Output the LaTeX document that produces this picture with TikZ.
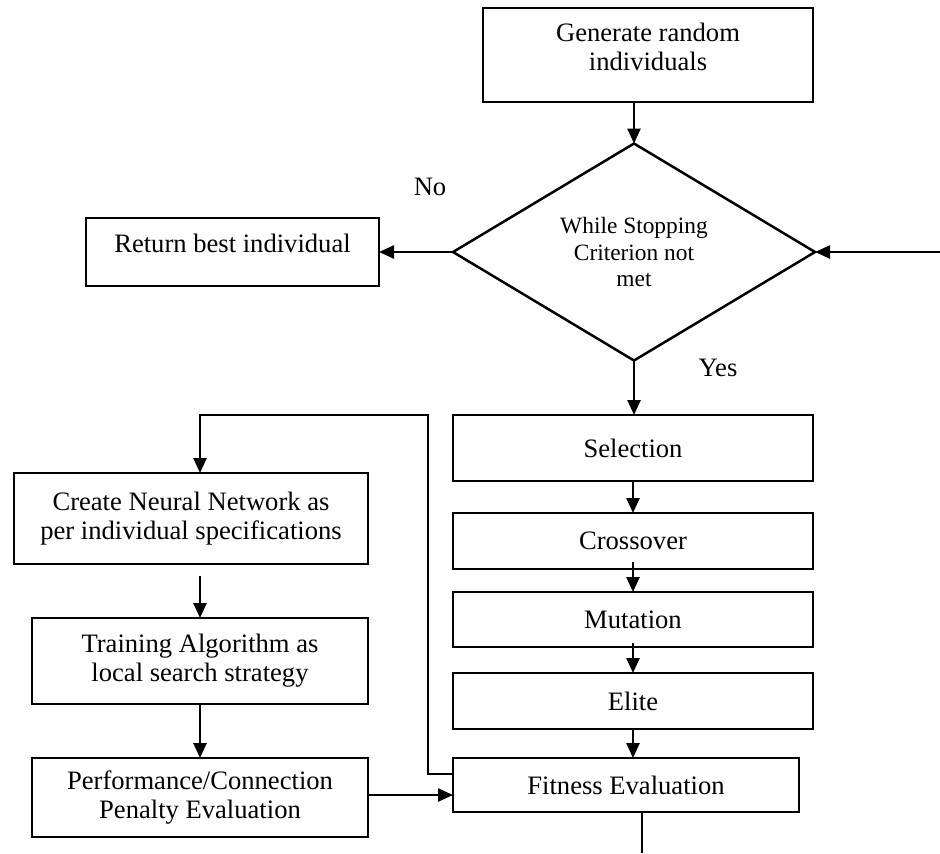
\documentclass[tikz,border=0pt]{standalone}
\usepackage{fontspec}
\setmainfont{Liberation Serif}
\usetikzlibrary{arrows.meta,shapes.geometric}
\newcommand{\boxfont}{\fontsize{13.3}{14.5}\selectfont}
\tikzset{
  stepbox/.style={draw,line width=1.25pt,inner sep=0pt,outer sep=0pt,align=center,
                  font=\boxfont},
  decision/.style={diamond,draw,line width=1.25pt,inner sep=0pt,outer sep=0pt,
                  align=center,font=\fontsize{11.7}{13.25}\selectfont,
                  minimum width=181pt,minimum height=90pt},
  flow/.style={-{Triangle[length=7.5pt,width=6.5pt]},line width=1.25pt},
  plain/.style={line width=1.25pt},
  tag/.style={font=\boxfont,inner sep=0pt},
}

\begin{document}
\begin{tikzpicture}[x=0.5pt,y=-0.5pt]
  \useasboundingbox (0,0) rectangle (940,853);
  \node[stepbox,minimum width=165pt,minimum height=47pt,text depth=8pt] (gen) at (648,55)
    {Generate random\\ individuals};
  \node[decision] (crit) at (634,252) {While Stopping\\ Criterion not\\ met};
  \node[stepbox,minimum width=146.5pt,minimum height=34pt,text height=9pt,
        text depth=9pt] (ret) at (232.5,252) {Return best individual};
  \node[tag] (no) at (430,187) {No};
  \node[tag] (yes) at (718,368) {Yes};
  \node[stepbox,minimum width=180pt,minimum height=33pt] (sel) at (633,448) {Selection};
  \node[stepbox,minimum width=180pt,minimum height=28pt] (cross) at (633,541) {Crossover};
  \node[stepbox,minimum width=180pt,minimum height=27.5pt] (mut) at (633,619.5) {Mutation};
  \node[stepbox,minimum width=180pt,minimum height=28pt] (elite) at (633,701) {Elite};
  \node[stepbox,minimum width=173pt,minimum height=27pt] (fit) at (626,785)
    {Fitness Evaluation};
  \node[stepbox,minimum width=177pt,minimum height=45.5pt] (create) at (191,518.5)
    {Create Neural Network as\\ per individual specifications};
  \node[stepbox,minimum width=168pt,minimum height=43pt] (train) at (200,661)
    {Training Algorithm as\\ local search strategy};
  \node[stepbox,minimum width=168pt,minimum height=39.5pt] (perf) at (200,797.5)
    {Performance/Connection\\ Penalty Evaluation};
  \coordinate (loopin) at (940,252);
  \coordinate (bend) at (428,415);
  \coordinate (fout) at (642,853);

  \draw[flow] (gen.south -| crit.north) -- (crit.north);
  \draw[flow] (loopin) -- (crit.east);
  \draw[flow] (crit.west) -- (ret.east);
  \draw[flow] (crit.south) -- (sel.north -| crit.south);
  \draw[flow] (sel.south) -- (cross.north);
  \draw[flow,shorten <=-3.5pt] (cross.south) -- (mut.north);
  \draw[flow,shorten <=-2pt] (mut.south) -- (elite.north);
  \draw[flow] (elite.south) -- (elite.south |- fit.north);
  \draw[plain] (fit.south -| fout) -- (fout);
  \draw[flow] ([yshift=5.5pt]fit.west) -| (bend) -| (create.north -| train.north);
  \draw[flow,shorten <=6pt] (create.south -| train.north) -- (train.north);
  \draw[flow] (train.south) -- (perf.north);
  \draw[flow] ([yshift=1.25pt]perf.east) -- ([yshift=1.25pt]perf.east -| fit.west);
\end{tikzpicture}
\end{document}
